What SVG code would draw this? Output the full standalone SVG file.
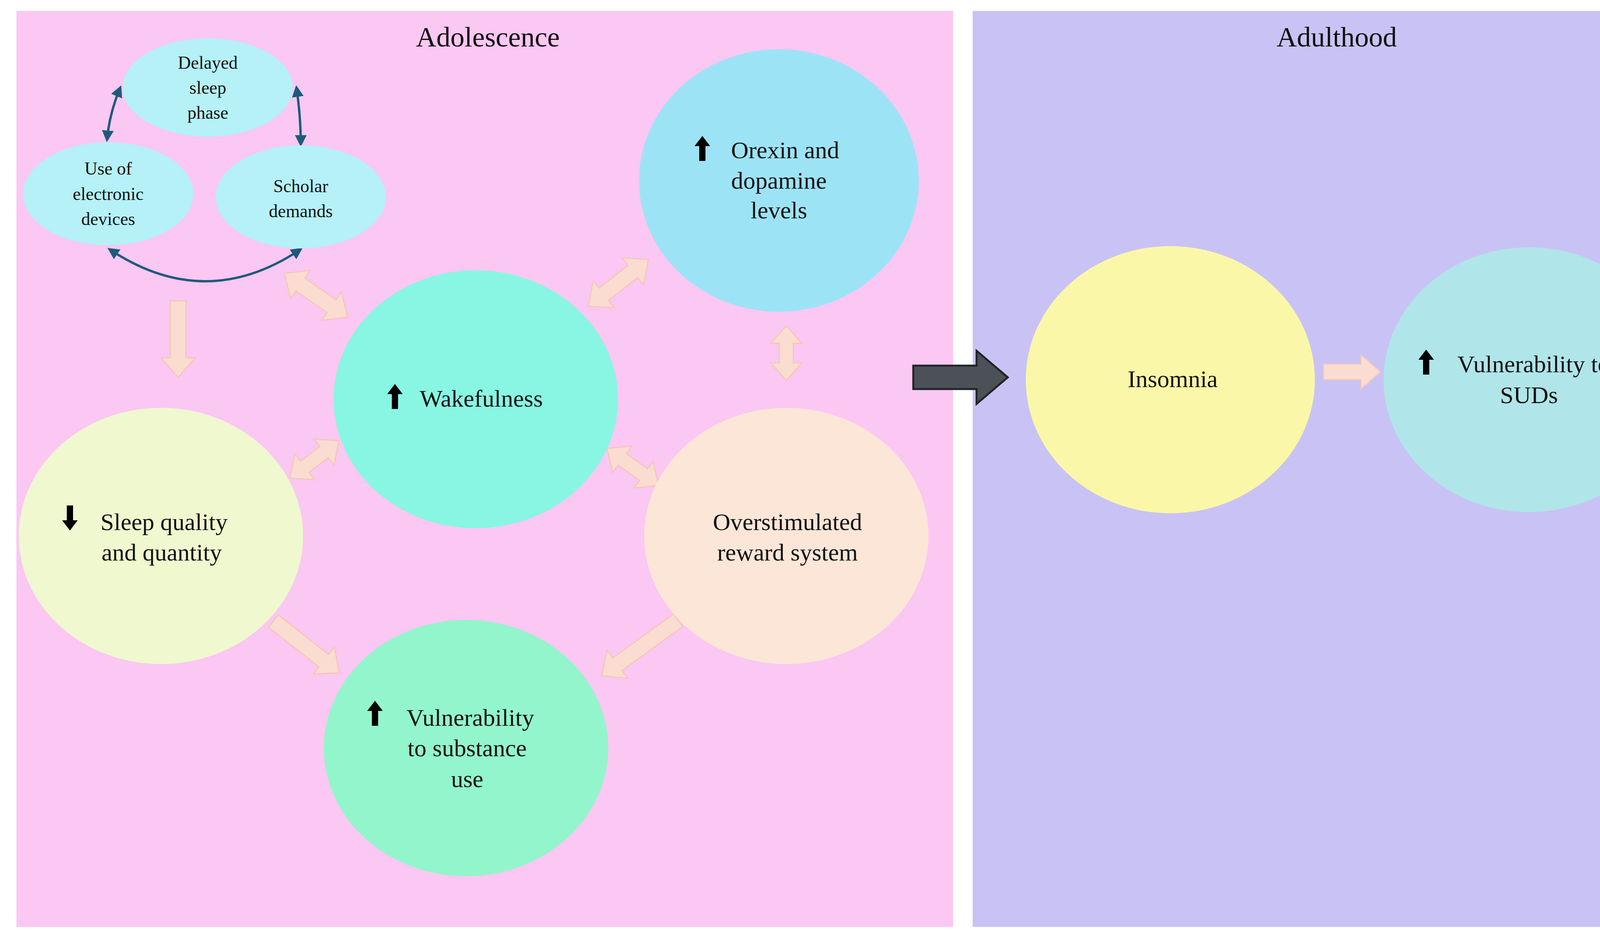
<svg xmlns="http://www.w3.org/2000/svg" xmlns:xlink="http://www.w3.org/1999/xlink" width="4371" height="2409" viewBox="0 0 4371 2409">
<style>
text{font-family:"Liberation Serif","DejaVu Serif",serif;fill:#111;text-anchor:middle;dominant-baseline:central}
.t{font-size:72px}.m{font-size:62px}.s{font-size:46px}
.pa{fill:#fbdcd0;stroke:#f2c8ba;stroke-width:3}
.bl{fill:none;stroke:#1d5a7a;stroke-width:6}
</style>
<defs>
<marker id="bh" viewBox="0 0 10 10" refX="8" refY="5" markerWidth="5" markerHeight="5" orient="auto-start-reverse"><path d="M0,0 L10,5 L0,10 z" fill="#1d5a7a"/></marker>
<path id="up" d="M0,-32 L20,-6 L8,-6 L8,32 L-8,32 L-8,-6 L-20,-6 Z" fill="#000"/>
</defs>
<rect x="0" y="0" width="4371" height="2409" fill="#fff"/>
<rect x="42" y="28" width="2398" height="2345" fill="#fbc7f3"/>
<rect x="2490" y="28" width="1850" height="2345" fill="#c9c3f5"/>
<text class="t" x="1249" y="95">Adolescence</text>
<text class="t" x="3422" y="95">Adulthood</text>

<g id="connectors">
<path class="bl" d="M274,358 Q280,290 308,224" marker-start="url(#bh)" marker-end="url(#bh)"/>
<path class="bl" d="M759,224 Q770,300 770,370" marker-start="url(#bh)" marker-end="url(#bh)"/>
<path class="bl" d="M280,638 Q526,802 770,638" marker-start="url(#bh)" marker-end="url(#bh)"/>
<path class="pa" transform="translate(456,770) rotate(90)" d="M0,-20 L146,-20 L146,-44 L196,0 L146,44 L146,20 L0,20 Z"/>
<path class="pa" transform="translate(728,700) rotate(34.7)" d="M0,0 L50,-44 L50,-20 L147,-20 L147,-44 L197,0 L147,44 L147,20 L50,20 L50,44 Z"/>
<path class="pa" transform="translate(1506,784) rotate(-37.9)" d="M0,0 L50,-44 L50,-20 L145,-20 L145,-44 L195,0 L145,44 L145,20 L50,20 L50,44 Z"/>
<path class="pa" transform="translate(2013,834) rotate(90)" d="M0,0 L45,-40 L45,-18 L95,-18 L95,-40 L140,0 L95,40 L95,18 L45,18 L45,40 Z"/>
<path class="pa" transform="translate(742,1224) rotate(-37.3)" d="M0,0 L48,-42 L48,-18 L110,-18 L110,-42 L158,0 L110,42 L110,18 L48,18 L48,42 Z"/>
<path class="pa" transform="translate(1554,1148) rotate(35.7)" d="M0,0 L48,-42 L48,-18 L115,-18 L115,-42 L163,0 L115,42 L115,18 L48,18 L48,42 Z"/>
<path class="pa" transform="translate(700,1590) rotate(38.2)" d="M0,-20 L164,-20 L164,-44 L214,0 L164,44 L164,20 L0,20 Z"/>
<path class="pa" transform="translate(1736,1588) rotate(144.1)" d="M0,-20 L192,-20 L192,-44 L242,0 L192,44 L192,20 L0,20 Z"/>
<path class="pa" transform="translate(3388,952) rotate(0)" d="M0,-20 L96,-20 L96,-44 L146,0 L96,44 L96,20 L0,20 Z"/>
<path d="M2338,936 L2500,936 L2500,898 L2580,966 L2500,1034 L2500,996 L2338,996 Z" fill="#4b5156" stroke="#1e2428" stroke-width="5"/>
</g>

<g id="delayed"><ellipse cx="532" cy="224" rx="218" ry="126" fill="#b5f1f7"/>
<text class="s" x="532" y="160">Delayed</text><text class="s" x="532" y="224">sleep</text><text class="s" x="532" y="288">phase</text></g>
<g id="electronic"><ellipse cx="277" cy="496" rx="218" ry="132" fill="#b5f1f7"/>
<text class="s" x="277" y="431">Use of</text><text class="s" x="277" y="496">electronic</text><text class="s" x="277" y="560">devices</text></g>
<g id="scholar"><ellipse cx="770" cy="504" rx="218" ry="132" fill="#b5f1f7"/>
<text class="s" x="770" y="476">Scholar</text><text class="s" x="770" y="540">demands</text></g>
<g id="orexin"><ellipse cx="1994" cy="462" rx="358" ry="336" fill="#9de3f6"/>
<use xlink:href="#up" x="1798" y="380"/>
<text class="m" x="2010" y="384">Orexin and</text><text class="m" x="1994" y="462">dopamine</text><text class="m" x="1994" y="538">levels</text></g>
<g id="wakefulness"><ellipse cx="1218" cy="1022" rx="364" ry="330" fill="#88f6e3"/>
<use xlink:href="#up" x="1011" y="1015"/>
<text class="m" x="1232" y="1020">Wakefulness</text></g>
<g id="sleep"><ellipse cx="412" cy="1372" rx="364" ry="328" fill="#f0f8cf"/>
<use xlink:href="#up" transform="translate(179,1326) rotate(180)"/>
<text class="m" x="420" y="1336">Sleep quality</text><text class="m" x="414" y="1414">and quantity</text></g>
<g id="overstim"><ellipse cx="2013" cy="1372" rx="364" ry="328" fill="#fce6d8"/>
<text class="m" x="2016" y="1336">Overstimulated</text><text class="m" x="2016" y="1414">reward system</text></g>
<g id="vulnerability"><ellipse cx="1193" cy="1915" rx="364" ry="328" fill="#93f5cb"/>
<use xlink:href="#up" x="960" y="1826"/>
<text class="m" x="1204" y="1837">Vulnerability</text><text class="m" x="1196" y="1915">to substance</text><text class="m" x="1196" y="1994">use</text></g>
<g id="insomnia"><ellipse cx="2996" cy="972" rx="370" ry="342" fill="#fbf7a8"/>
<text class="m" x="3002" y="970">Insomnia</text></g>
<g id="suds"><ellipse cx="3914" cy="972" rx="372" ry="339" fill="#b0e5ea"/>
<use xlink:href="#up" x="3651" y="927"/>
<text class="m" x="3926" y="932">Vulnerability to</text><text class="m" x="3914" y="1011">SUDs</text></g>
</svg>
